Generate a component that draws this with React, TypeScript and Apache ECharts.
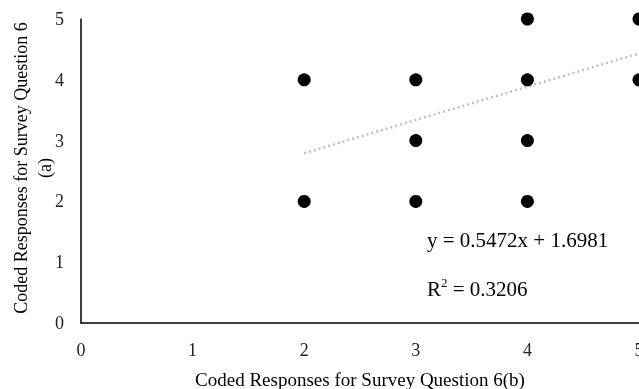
import React, { useEffect, useRef } from "react";
import * as echarts from "echarts";

const xValues = [2, 2, 3, 3, 3, 4, 4, 4, 4, 5, 5];
const yValues = [4, 2, 4, 3, 2, 5, 4, 3, 2, 5, 4];
const slope = 0.5472;
const intercept = 1.6981;
const rSquared = "0.3206";
const trendRange = [2, 5];
const xTitle = "Coded Responses for Survey Question 6(b)";
const yTitleLines = ["Coded Responses for Survey Question 6", "(a)"];

export default function App() {
  const ref = useRef<HTMLDivElement>(null);
  useEffect(() => {
    if (!ref.current) return;
    const chart = echarts.init(ref.current, null, { renderer: "svg" });
    const font = "'Liberation Serif', 'Times New Roman', serif";
    const points = xValues.map((x, i) => [x, yValues[i]]);
    const trend = trendRange.map((x) => [x, slope * x + intercept]);
    chart.setOption({
      animation: false,
      textStyle: { fontFamily: font },
      grid: { left: 81, right: 0, top: 19, bottom: 66, outerBoundsMode: "none", containLabel: false },
      xAxis: {
        type: "value",
        min: 0,
        max: 5,
        interval: 1,
        name: xTitle,
        nameLocation: "middle",
        nameGap: 47,
        nameTextStyle: { fontFamily: font, fontSize: 19, color: "#000" },
        axisLine: { show: true, lineStyle: { color: "#000", width: 1.5 } },
        axisTick: { show: false },
        splitLine: { show: false },
        axisLabel: { fontFamily: font, fontSize: 18, color: "#222", margin: 18, showMaxLabel: true },
      },
      yAxis: {
        type: "value",
        min: 0,
        max: 5,
        interval: 1,
        axisLine: { show: true, lineStyle: { color: "#000", width: 1.5 } },
        axisTick: { show: false },
        splitLine: { show: false },
        axisLabel: { fontFamily: font, fontSize: 18, color: "#222", margin: 17 },
      },
      series: [
        {
          type: "line",
          data: trend,
          symbol: "none",
          clip: false,
          lineStyle: { color: "#bfbfbf", width: 2.5, type: [2, 3] },
          z: 1,
        },
        {
          type: "scatter",
          data: points,
          symbol: "circle",
          symbolSize: 13,
          clip: false,
          itemStyle: { color: "#000", opacity: 1 },
          z: 2,
        },
      ],
      graphic: [
        ...yTitleLines.map((t, i) => ({
          type: "text",
          x: 21 + i * 24,
          y: 168,
          rotation: Math.PI / 2,
          style: {
            text: t,
            font: `18px ${font}`,
            fill: "#000",
            align: "center",
            verticalAlign: "middle",
          },
        })),
        {
          type: "text",
          left: 427,
          top: 229,
          style: { text: `y = ${slope}x + ${intercept}`, font: `21px ${font}`, fill: "#000" },
        },
        {
          type: "text",
          left: 427,
          top: 276,
          style: {
            text: `{b|R}{s|2}{b| = ${rSquared}}`,
            rich: {
              b: { font: `21px ${font}`, fill: "#000", verticalAlign: "bottom" },
              s: { font: `13px ${font}`, fill: "#000", verticalAlign: "top", padding: [0, 0, 10, 0] },
            },
          },
        },
      ],
    });
    return () => chart.dispose();
  }, []);
  return (
    <div
      ref={ref}
      style={{ position: "fixed", left: 0, top: 0, width: 639, height: 389 }}
    />
  );
}
